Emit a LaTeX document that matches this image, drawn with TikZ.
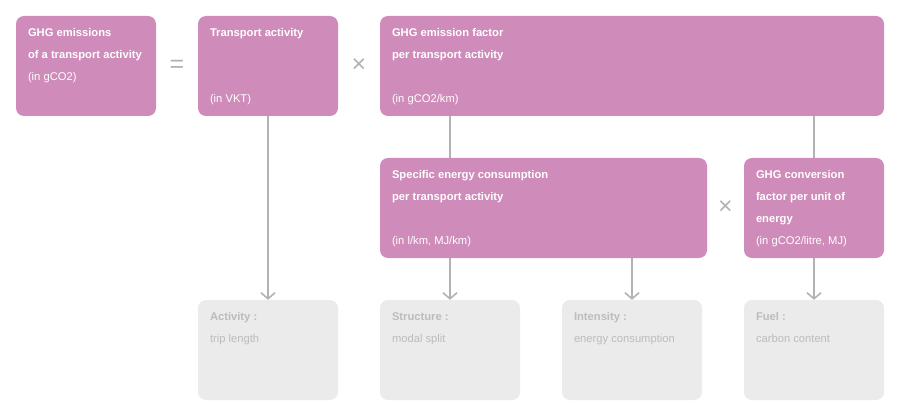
\documentclass[tikz,border=0pt]{standalone}
\usepackage{fontspec}
\setmainfont{Liberation Sans}
\usetikzlibrary{arrows.meta, positioning, calc}
\definecolor{orchid}{RGB}{207,139,185}
\definecolor{mist}{RGB}{235,235,235}
\definecolor{ash}{RGB}{178,178,178}
\definecolor{pebble}{RGB}{188,188,188}

\begin{document}
\begin{tikzpicture}[x=1pt, y=-1pt,
    factor/.style={fill=orchid, rounded corners=8pt, minimum height=100pt, inner sep=0pt},
    effect/.style={fill=mist, rounded corners=8pt, minimum width=140pt, minimum height=100pt, inner sep=0pt},
    caption/.style={anchor=north west, inner sep=0pt, align=left, text=white,
                    font=\fontsize{11.2}{22}\selectfont,
                    execute at begin node={\rule{0pt}{9pt}}},
    greycaption/.style={caption, text=pebble},
    link/.style={draw=ash, line width=1.6pt},
    pointer/.style={link, -{Straight Barb[length=6pt, width=14pt, line width=1.6pt]}},
    sign/.style={text=ash, inner sep=0pt, font=\fontsize{25}{25}\selectfont}]

  \useasboundingbox (0,0) rectangle (900,417);

  % top row
  \node[factor, minimum width=140pt] (total) at (86,66) {};
  \node[factor, minimum width=140pt] (transport) at (268,66) {};
  \node[factor, minimum width=504pt] (emission) at (632,66) {};

  % second row
  \node[factor, minimum width=327pt] (consumption) at (543.5,208) {};
  \node[factor, minimum width=140pt] (conversion) at (814,208) {};

  % drivers
  \node[effect] (activity) at (268,350) {};
  \node[effect] (structure) at (450,350) {};
  \node[effect] (intensity) at (632,350) {};
  \node[effect] (fuel) at (814,350) {};

  % texts
  \node[caption] (totaltext) at ($(total.north west)+(12,12.5)$)
    {\textbf{GHG emissions}\\\textbf{of a transport activity}\\(in gCO2)};
  \node[caption] (transporttext) at ($(transport.north west)+(12,12.5)$)
    {\textbf{Transport activity}\\[44pt](in VKT)};
  \node[caption] (emissiontext) at ($(emission.north west)+(12,12.5)$)
    {\textbf{GHG emission factor}\\\textbf{per transport activity}\\[22pt](in gCO2/km)};
  \node[caption] (consumptiontext) at ($(consumption.north west)+(12,12.5)$)
    {\textbf{Specific energy consumption}\\\textbf{per transport activity}\\[22pt](in l/km, MJ/km)};
  \node[caption] (conversiontext) at ($(conversion.north west)+(12,12.5)$)
    {\textbf{GHG conversion}\\\textbf{factor per unit of}\\\textbf{energy}\\(in gCO2/litre, MJ)};
  \node[greycaption] (activitytext) at ($(activity.north west)+(12,12.5)$)
    {\textbf{Activity :}\\trip length};
  \node[greycaption] (structuretext) at ($(structure.north west)+(12,12.5)$)
    {\textbf{Structure :}\\modal split};
  \node[greycaption] (intensitytext) at ($(intensity.north west)+(12,12.5)$)
    {\textbf{Intensity :}\\energy consumption};
  \node[greycaption] (fueltext) at ($(fuel.north west)+(12,12.5)$)
    {\textbf{Fuel :}\\carbon content};

  % operators
  \node[sign] (equals) at ($(total.east)!0.5!(transport.west)$) {=};
  \node[sign] (times) at ($(transport.east)!0.5!(emission.west)$) {×};
  \node[sign] (timesb) at ($(consumption.east)!0.5!(conversion.west)$) {×};

  % connectors
  \draw[pointer] (transport) -- (activity);
  \draw[link] (emission.south -| structure) -- (consumption.north -| structure);
  \draw[link] (emission.south -| conversion) -- (conversion);
  \draw[pointer] (consumption.south -| structure) -- (structure);
  \draw[pointer] (consumption.south -| intensity) -- (intensity);
  \draw[pointer] (conversion) -- (fuel);
\end{tikzpicture}
\end{document}
